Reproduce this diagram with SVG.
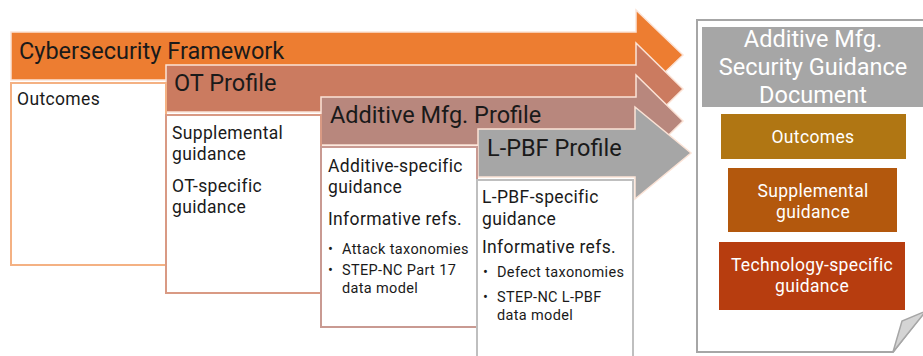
<svg xmlns="http://www.w3.org/2000/svg" width="923" height="356" viewBox="0 0 923 356">
<style>
text{font-family:Roboto,"Open Sans","Liberation Sans",sans-serif;fill:#1a1a1a}
.title{font-size:23.5px}
.body{font-size:17.5px;letter-spacing:0.35px}
.small{font-size:14.5px;letter-spacing:0.35px}
.w{fill:#ffffff;text-anchor:middle}
.arrow{stroke:#fbe3d6;stroke-width:1.5}
.box{fill:#ffffff;stroke-width:2}
</style>
<rect width="923" height="356" fill="#ffffff"/>
<g id="connectors">
  <path class="arrow" d="M11,32 H636 V10 L683,55 L636,100 V80 H11 Z" fill="#ed7d31"/>
  <path class="arrow" d="M166,65 H636 V43 L683,89 L636,135 V112 H166 Z" fill="#cb7b60"/>
  <path class="arrow" d="M321,97 H636 V75 L683,121 L636,167 V145 H321 Z" fill="#b8877d"/>
  <path class="arrow" d="M478,129 H635 V107 L691,153 L635,199 V177 H478 Z" fill="#a6a6a6" stroke="#e6e6e6" stroke-width="1.5"/>
</g>
<g id="csf">
  <text class="title" x="19" y="59">Cybersecurity Framework</text>
  <rect class="box" x="11" y="83" width="155" height="182" stroke="#f4b183"/>
  <text class="body" x="17" y="105">Outcomes</text>
</g>
<g id="ot">
  <text class="title" x="174" y="91">OT Profile</text>
  <rect class="box" x="166" y="115" width="155" height="178" stroke="#d99a84"/>
  <text class="body"><tspan x="172" y="139">Supplemental</tspan><tspan x="172" y="160">guidance</tspan><tspan x="172" y="192">OT-specific</tspan><tspan x="172" y="213">guidance</tspan></text>
</g>
<g id="am">
  <text class="title" x="330" y="123">Additive Mfg. Profile</text>
  <rect class="box" x="321" y="147" width="156" height="180" stroke="#c99a92"/>
  <text class="body"><tspan x="328" y="172">Additive-specific</tspan><tspan x="328" y="193">guidance</tspan><tspan x="328" y="225">Informative refs.</tspan></text>
  <text class="small"><tspan x="328" y="254">•</tspan><tspan x="342" y="254">Attack taxonomies</tspan><tspan x="328" y="275">•</tspan><tspan x="342" y="275">STEP-NC Part 17</tspan><tspan x="342" y="293">data model</tspan></text>
</g>
<g id="lpbf">
  <text class="title" x="487" y="156">L-PBF Profile</text>
  <rect class="box" x="477" y="180" width="156" height="182" stroke="#bfbfbf"/>
  <text class="body"><tspan x="482" y="203">L-PBF-specific</tspan><tspan x="482" y="225">guidance</tspan><tspan x="482" y="253">Informative refs.</tspan></text>
  <text class="small"><tspan x="483" y="277">•</tspan><tspan x="497" y="277">Defect taxonomies</tspan><tspan x="483" y="302">•</tspan><tspan x="497" y="302">STEP-NC L-PBF</tspan><tspan x="497" y="320">data model</tspan></text>
</g>
<g id="document">
  <path d="M935,20 H697 V352 H893 L935,298" fill="#ffffff" stroke="#a6a6a6" stroke-width="2"/>
  <polygon points="893,352 902,321 926,311" fill="#d4d4d4" stroke="#a6a6a6" stroke-width="1.5"/>
  <rect x="702" y="27" width="230" height="80" fill="#a6a6a6"/>
  <text class="title w"><tspan x="813" y="47">Additive Mfg.</tspan><tspan x="813" y="75">Security Guidance</tspan><tspan x="813" y="103">Document</tspan></text>
</g>
<g id="doc-outcomes">
  <rect x="721" y="114" width="185" height="45" fill="#b07613"/>
  <text class="body w" x="813" y="143">Outcomes</text>
</g>
<g id="doc-supplemental">
  <rect x="728" y="168" width="169" height="64" fill="#b3580d"/>
  <text class="body w"><tspan x="813" y="197">Supplemental</tspan><tspan x="813" y="218">guidance</tspan></text>
</g>
<g id="doc-technology">
  <rect x="719" y="242" width="186" height="68" fill="#b73d0f"/>
  <text class="body w"><tspan x="812" y="271">Technology-specific</tspan><tspan x="812" y="292">guidance</tspan></text>
</g>
</svg>
